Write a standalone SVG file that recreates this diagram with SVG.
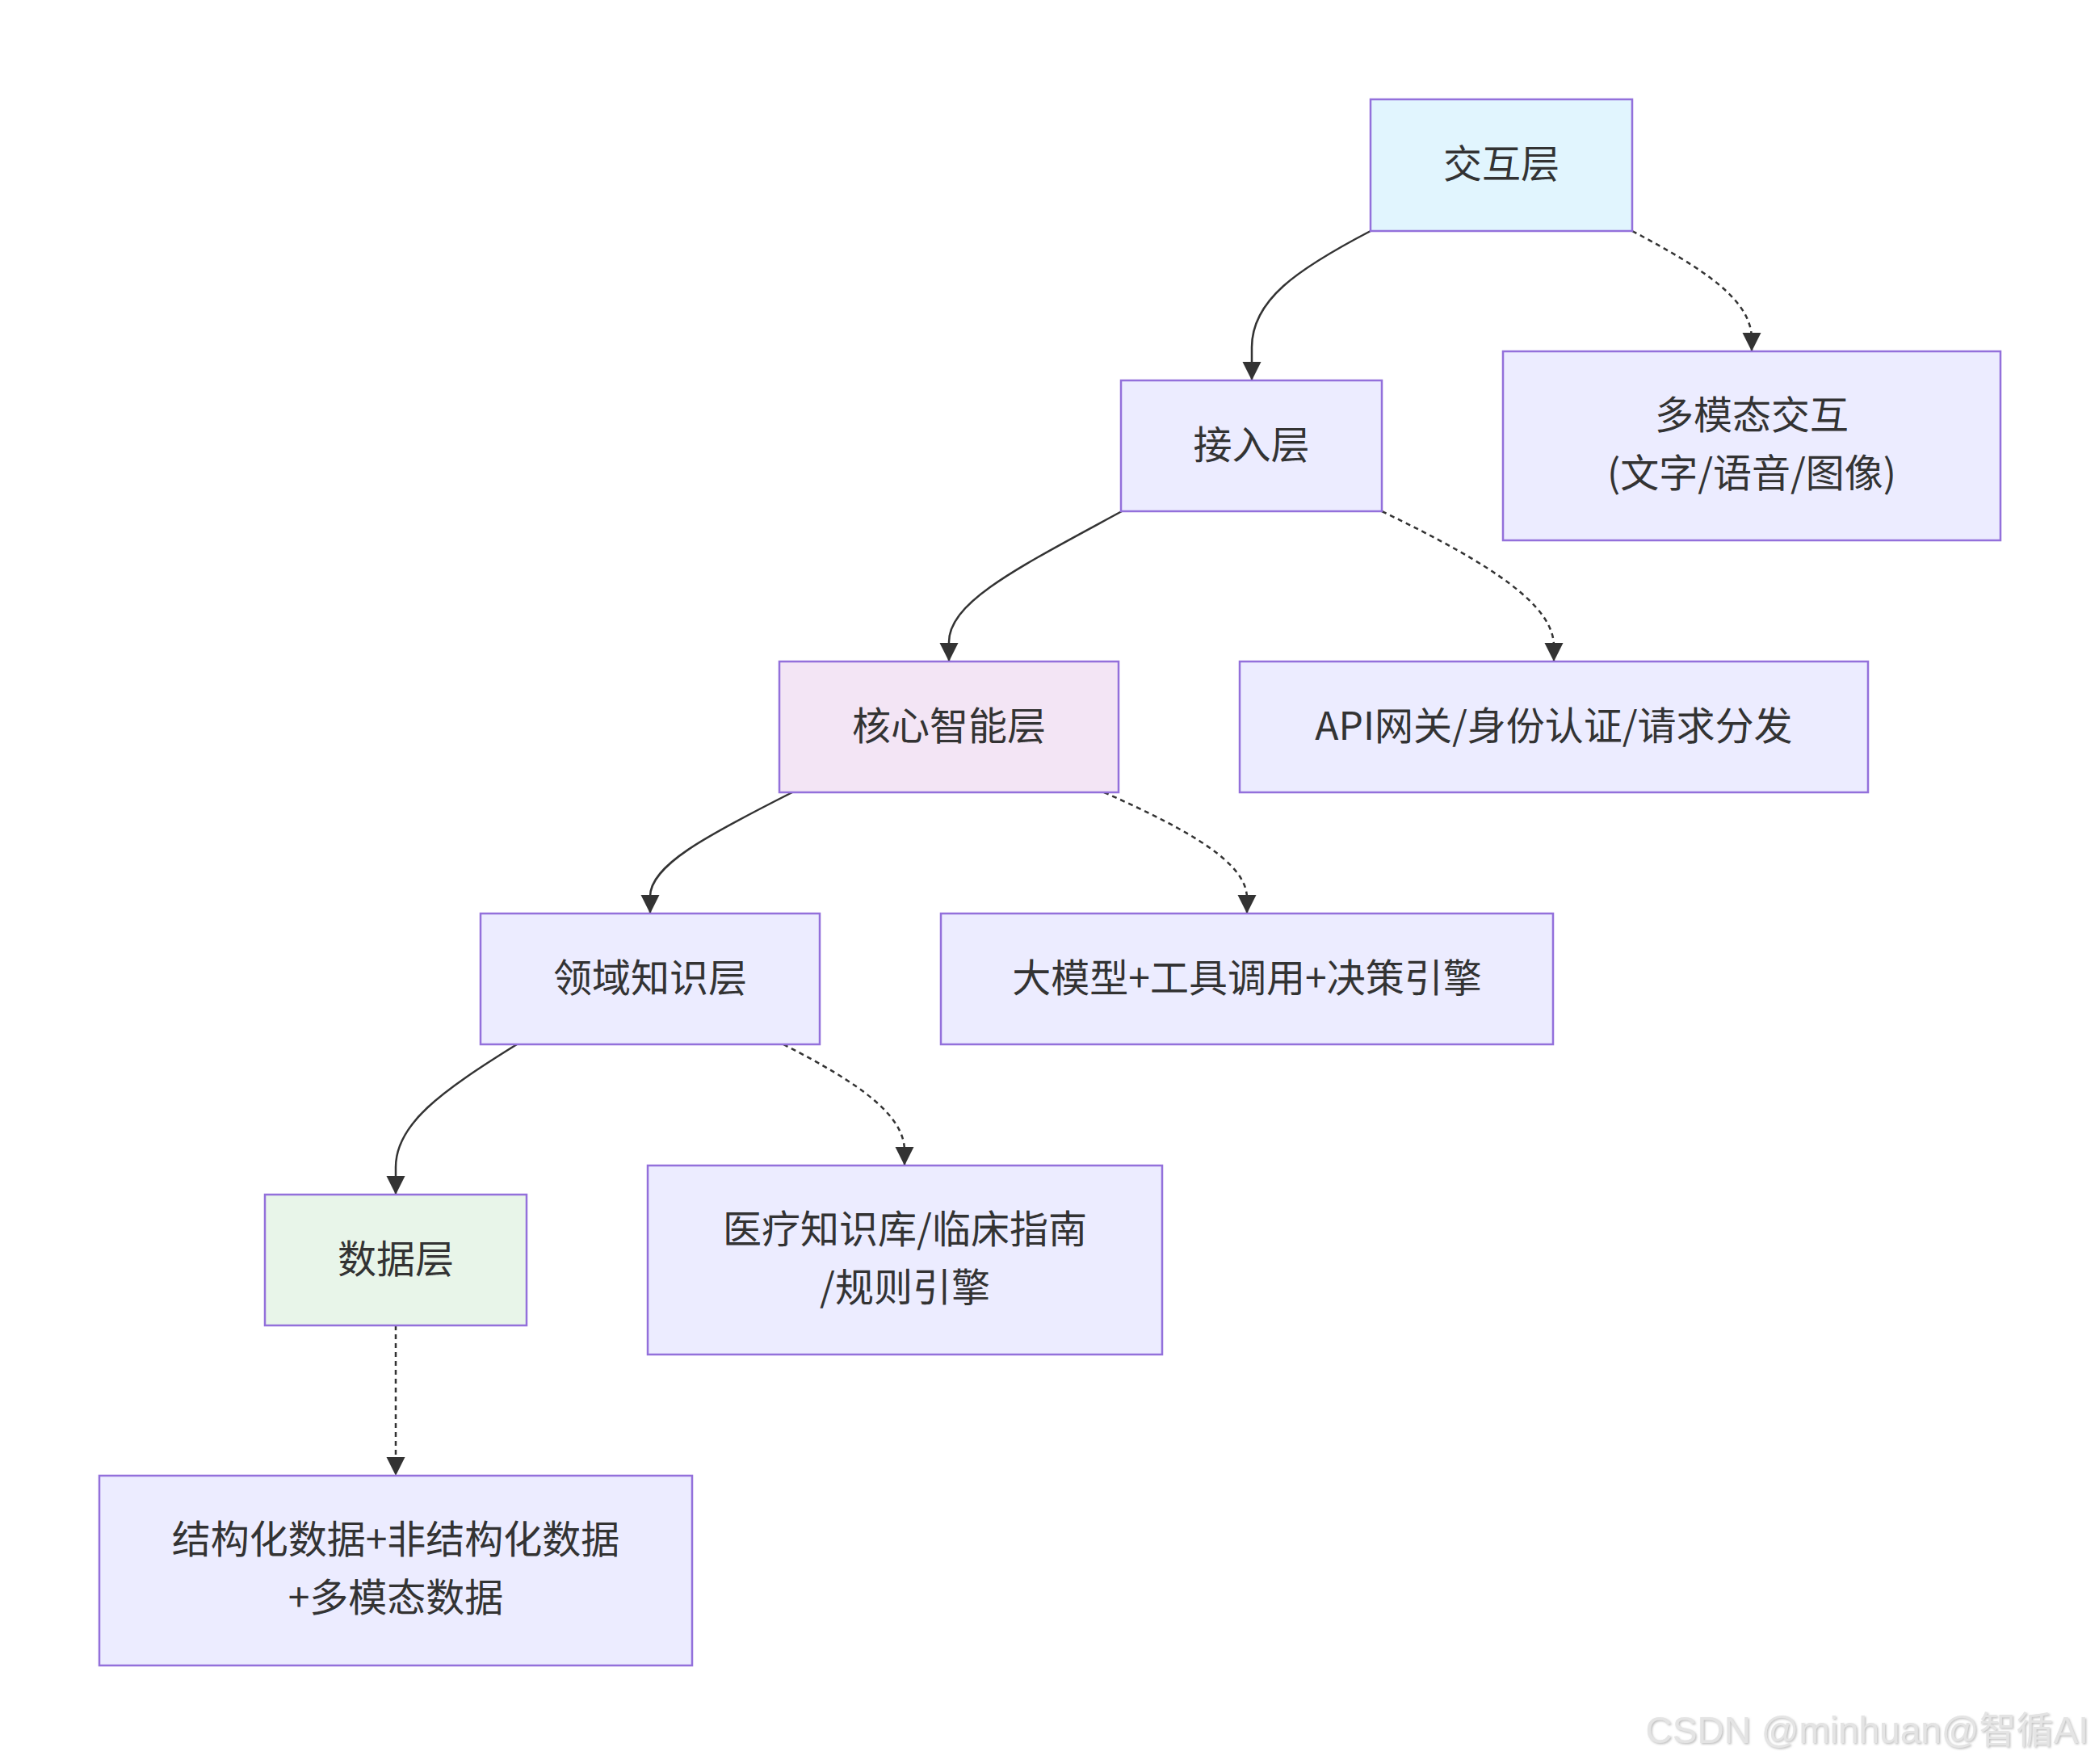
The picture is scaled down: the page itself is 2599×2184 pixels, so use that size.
<svg xmlns="http://www.w3.org/2000/svg" width="2599" height="2184" viewBox="0 0 2599 2184">
<defs>
<style>
.node rect{stroke:#9370DB;stroke-width:2.5}
.node text{font-family:"Noto Sans CJK SC","Noto Sans",sans-serif;font-size:48px;fill:#333;text-anchor:middle}
.def{fill:#ECECFF}
.edge{fill:none;stroke:#333;stroke-width:2.5}
.dash{stroke-dasharray:6 5}
.wm{font-family:"Liberation Sans","Noto Sans CJK SC",sans-serif;font-size:46px;fill:#e4e4e4;text-anchor:end}
</style>
<marker id="arr" viewBox="0 0 10 10" refX="10" refY="5" markerWidth="23" markerHeight="24" markerUnits="userSpaceOnUse" orient="auto">
<path d="M0,0 L10,5 L0,10 z" fill="#333"/>
</marker>
<filter id="sh" x="-5%" y="-20%" width="110%" height="140%">
<feDropShadow dx="1.5" dy="1.5" stdDeviation="0.8" flood-color="#b0b0b0" flood-opacity="0.8"/>
</filter>
</defs>
<rect width="2599" height="2184" fill="#fff"/>
<g id="edges">
<path class="edge" d="M1697,286 C1605,334 1550,372 1550,430 L1550,471" marker-end="url(#arr)"/>
<path class="edge dash" d="M2021,286 C2112,334 2169,372 2169,420 L2169,435" marker-end="url(#arr)"/>
<path class="edge" d="M1389,633 C1262,702 1175,745 1175,795 L1175,819" marker-end="url(#arr)"/>
<path class="edge dash" d="M1711,633 C1850,700 1924,750 1924,800 L1924,819" marker-end="url(#arr)"/>
<path class="edge" d="M981,981 C872,1036 805,1072 805,1110 L805,1131" marker-end="url(#arr)"/>
<path class="edge dash" d="M1367,981 C1478,1030 1544,1070 1544,1112 L1544,1131" marker-end="url(#arr)"/>
<path class="edge" d="M640,1293 C545,1352 490,1392 490,1445 L490,1479" marker-end="url(#arr)"/>
<path class="edge dash" d="M970,1293 C1068,1343 1120,1382 1120,1425 L1120,1443" marker-end="url(#arr)"/>
<path class="edge dash" d="M490,1641 L490,1827" marker-end="url(#arr)"/>
</g>
<g id="node-interact" class="node"><rect x="1697" y="123" width="324" height="163" fill="#e1f5fe"/><text x="1859" y="220">交互层</text></g>
<g id="node-multimodal" class="node"><rect class="def" x="1861" y="435" width="616" height="234"/><text x="2169" y="531">多模态交互</text><text x="2169" y="603">(文字/语音/图像)</text></g>
<g id="node-access" class="node"><rect class="def" x="1388" y="471" width="323" height="162"/><text x="1549.5" y="568">接入层</text></g>
<g id="node-api" class="node"><rect class="def" x="1535" y="819" width="778" height="162"/><text x="1924" y="916">API网关/身份认证/请求分发</text></g>
<g id="node-core" class="node"><rect x="965" y="819" width="420" height="162" fill="#f3e5f5"/><text x="1175" y="916">核心智能层</text></g>
<g id="node-domain" class="node"><rect class="def" x="595" y="1131" width="420" height="162"/><text x="805" y="1228">领域知识层</text></g>
<g id="node-llm" class="node"><rect class="def" x="1165" y="1131" width="758" height="162"/><text x="1544" y="1228">大模型+工具调用+决策引擎</text></g>
<g id="node-data" class="node"><rect x="328" y="1479" width="324" height="162" fill="#e8f5e9"/><text x="490" y="1576">数据层</text></g>
<g id="node-medical" class="node"><rect class="def" x="802" y="1443" width="637" height="234"/><text x="1120.5" y="1539">医疗知识库/临床指南</text><text x="1120.5" y="1611">/规则引擎</text></g>
<g id="node-structured" class="node"><rect class="def" x="123" y="1827" width="734" height="235"/><text x="490" y="1923">结构化数据+非结构化数据</text><text x="490" y="1995">+多模态数据</text></g>
<text class="wm" x="2586" y="2158" filter="url(#sh)">CSDN @minhuan@智循AI</text>
</svg>
